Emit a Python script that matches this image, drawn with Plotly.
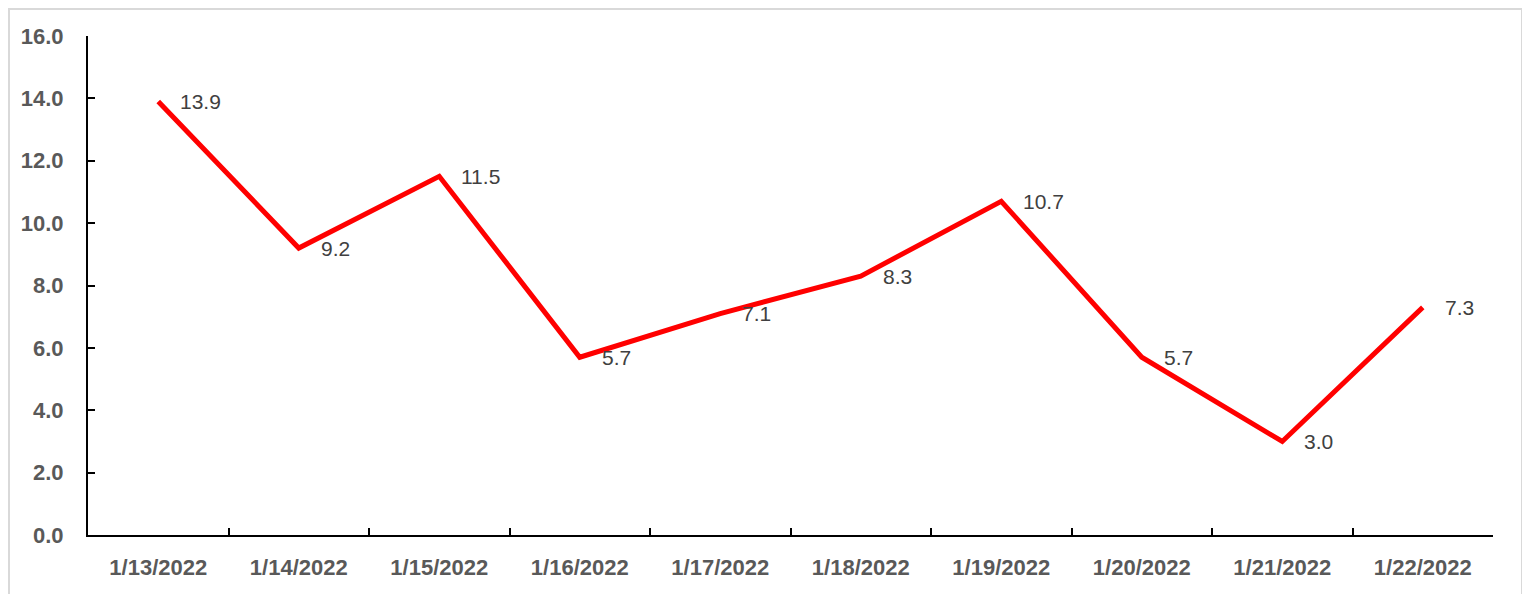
import plotly.graph_objects as go

dates = ["1/13/2022", "1/14/2022", "1/15/2022", "1/16/2022", "1/17/2022",
         "1/18/2022", "1/19/2022", "1/20/2022", "1/21/2022", "1/22/2022"]
values = [13.9, 9.2, 11.5, 5.7, 7.1, 8.3, 10.7, 5.7, 3.0, 7.3]
y_ticks = [0, 2, 4, 6, 8, 10, 12, 14, 16]

# page has an 8px body margin; figure coordinates are offset by it
W, H = 1522, 586
L, R, T, B = 80, 37, 28, 59
pw, ph = W - L - R, H - T - B
FONT = "Liberation Sans, Arial, sans-serif"

fig = go.Figure()
fig.add_trace(go.Scatter(
    x=dates, y=values, mode="lines",
    line=dict(color="#FF0000", width=5),
    hoverinfo="skip", showlegend=False,
))

for d, v in zip(dates, values):
    fig.add_annotation(
        x=d, y=v, text=f"{v:.1f}", showarrow=False,
        xanchor="left", yanchor="middle", xshift=20, yshift=0,
        font=dict(family=FONT, size=21, color="#404040"),
    )

# outer chart border
fig.add_shape(
    type="rect", xref="paper", yref="paper",
    x0=(1 - L) / pw, x1=(1514 - L) / pw,
    y0=(T + ph - 620) / ph, y1=(T + ph - 1) / ph,
    line=dict(color="#D9D9D9", width=2), fillcolor="rgba(0,0,0,0)", layer="below",
)

fig.update_layout(
    width=W, height=H,
    margin=dict(l=L, r=R, t=T, b=B, pad=0, autoexpand=False),
    paper_bgcolor="white", plot_bgcolor="white",
    font=dict(family=FONT),
    xaxis=dict(
        type="category", tickson="boundaries", ticks="inside", ticklen=7,
        tickwidth=2, tickcolor="black", automargin=False,
        showline=True, linecolor="black", linewidth=2, showgrid=False,
        zeroline=False, range=[-0.5, 9.5],
        tickfont=dict(size=22, color="#595959", family=FONT, weight="bold"),
        ticklabelstandoff=12,
    ),
    yaxis=dict(
        range=[0, 16], tickvals=y_ticks, tickformat=".1f", automargin=False,
        ticks="inside", ticklen=7, tickwidth=2, tickcolor="black",
        showline=True, linecolor="black", linewidth=2, showgrid=False,
        zeroline=False,
        tickfont=dict(size=22, color="#595959", family=FONT, weight="bold"),
        ticklabelstandoff=18,
    ),
)

fig.write_html("out.html")
